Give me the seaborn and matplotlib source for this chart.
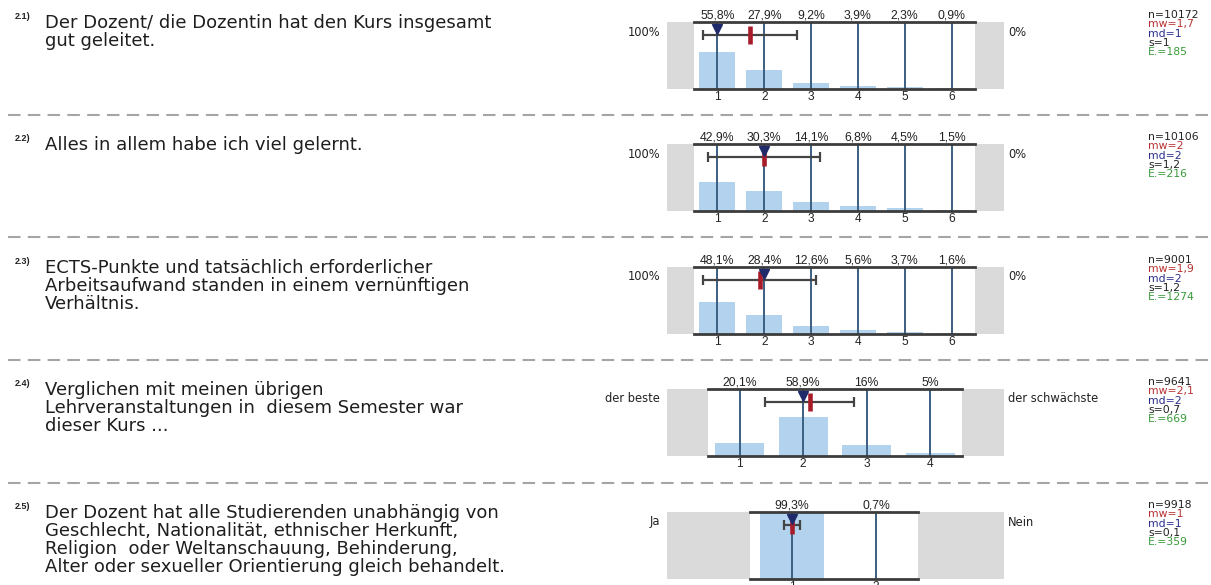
import matplotlib
matplotlib.use("Agg")
import matplotlib.pyplot as plt
import seaborn as sns
import pandas as pd
from matplotlib.lines import Line2D
from matplotlib.patches import Rectangle

# ---------------- data ----------------
q_numbers = ["2.1)", "2.2)", "2.3)", "2.4)", "2.5)"]
questions = [
    "Der Dozent/ die Dozentin hat den Kurs insgesamt\ngut geleitet.",
    "Alles in allem habe ich viel gelernt.",
    "ECTS-Punkte und tatsächlich erforderlicher\nArbeitsaufwand standen in einem vernünftigen\nVerhältnis.",
    "Verglichen mit meinen übrigen\nLehrveranstaltungen in  diesem Semester war\ndieser Kurs ...",
    "Der Dozent hat alle Studierenden unabhängig von\nGeschlecht, Nationalität, ethnischer Herkunft,\n"
    "Religion  oder Weltanschauung, Behinderung,\nAlter oder sexueller Orientierung gleich behandelt.",
]
pct_q1 = [55.8, 27.9, 9.2, 3.9, 2.3, 0.9]
pct_q2 = [42.9, 30.3, 14.1, 6.8, 4.5, 1.5]
pct_q3 = [48.1, 28.4, 12.6, 5.6, 3.7, 1.6]
pct_q4 = [20.1, 58.9, 16, 5]
pct_q5 = [99.3, 0.7]
left_labels = ["100%", "100%", "100%", "der beste", "Ja"]
right_labels = ["0%", "0%", "0%", "der schwächste", "Nein"]
n_vals = [10172, 10106, 9001, 9641, 9918]
mw_vals = [1.7, 2, 1.9, 2.1, 1]
md_vals = [1, 2, 2, 2, 1]
s_vals = [1, 1.2, 1.2, 0.7, 0.1]
e_vals = [185, 216, 1274, 669, 359]

all_pcts = [pct_q1, pct_q2, pct_q3, pct_q4, pct_q5]

# ---------------- layout (pixels) ----------------
W, H = 1211, 585
frame_top = [22, 144, 267, 389, 512]
frame_h = 67
frame_x = [(694, 975), (694, 975), (694, 975), (708, 962), (750, 918)]
gray_x = (667, 1004)
sep_y = [115, 237, 360, 483]

sns.set_theme(style="white")
plt.rcParams['font.family'] = ['DejaVu Sans']

fig = plt.figure(figsize=(W / 100, H / 100), dpi=100)
fig.patch.set_facecolor("white")


def fx(px):
    return px / W


def fy(py):
    return 1 - py / H


def fmt_num(v):
    return f"{v:g}".replace(".", ",")


BAR = "#b3d2ee"
VLINE = "#3b5f82"
SPINE = "#3c3c3c"

for r in range(5):
    pcts = all_pcts[r]
    K = len(pcts)
    top = frame_top[r]
    x0, x1 = frame_x[r]

    # gray side boxes
    fig.add_artist(Rectangle((fx(gray_x[0]), fy(top + frame_h)),
                             (gray_x[1] - gray_x[0]) / W, frame_h / H,
                             transform=fig.transFigure, facecolor="#dadada",
                             edgecolor="none", zorder=-1))

    ax = fig.add_axes([fx(x0), fy(top + frame_h), (x1 - x0) / W, frame_h / H])
    ax.set_facecolor("white")
    df = pd.DataFrame({"cat": [str(i + 1) for i in range(K)], "pct": pcts})
    sns.barplot(data=df, x="cat", y="pct", ax=ax, color=BAR, saturation=1,
                width=0.77, linewidth=0, zorder=2)
    ax.set_xlim(-0.5, K - 0.5)
    ax.set_ylim(0, 100)
    for i in range(K):
        ax.axvline(i, color=VLINE, lw=1.4, zorder=3)

    for side in ["left", "right"]:
        ax.spines[side].set_visible(False)
    for side in ["top", "bottom"]:
        ax.spines[side].set_visible(True)
        ax.spines[side].set_color(SPINE)
        ax.spines[side].set_linewidth(2.0)
        ax.spines[side].set_zorder(6)
    ax.set_yticks([])
    ax.set_xlabel("")
    ax.set_ylabel("")
    ax.tick_params(axis="x", length=0, pad=1.5, labelsize=8.6, colors="#222222")
    for lbl in ax.get_xticklabels():
        lbl.set_fontfamily("Liberation Sans")

    # percent labels
    for i, v in enumerate(pcts):
        ax.annotate(fmt_num(v) + "%", xy=(i, 1), xycoords=("data", "axes fraction"),
                    xytext=(0, 2.2), textcoords="offset points", ha="center",
                    va="baseline", fontsize=8.8, family="Liberation Sans",
                    color="#222222", annotation_clip=False)

    # mean +/- sd, mean marker, median marker
    mw, s, md = mw_vals[r], s_vals[r], md_vals[r]
    ax.errorbar(mw - 1, 80, xerr=s, fmt="none", ecolor="#444444", elinewidth=1.6,
                capsize=3.5, capthick=1.6, zorder=4)
    ax.plot([mw - 1, mw - 1], [67, 94], color="#a81c2a", lw=3.3,
            solid_capstyle="butt", zorder=5)
    ax.plot(md - 1, 90, marker="v", color="#1f2a6b", markersize=6.5,
            linestyle="none", zorder=7)

    # side labels
    fig.text(fx(660), fy(top + 10), left_labels[r], ha="right", va="center",
             fontsize=8.3, color="#222222")
    fig.text(fx(1008), fy(top + 10), right_labels[r], ha="left", va="center",
             fontsize=8.3, color="#222222")

    # statistics block
    stats = [(f"n={n_vals[r]}", "#222222"), (f"mw={fmt_num(mw)}", "#b83232"),
             (f"md={fmt_num(md)}", "#2b2f8c"), (f"s={fmt_num(s)}", "#222222"),
             (f"E.={e_vals[r]}", "#3a9a3a")]
    for j, (t, c) in enumerate(stats):
        fig.text(fx(1148), fy(top - 7 + 9.3 * j), t, ha="left", va="center",
                 fontsize=7.8, color=c)

    # question text
    fig.text(fx(15), fy(top - 3), q_numbers[r], ha="left", va="baseline",
             fontsize=6.5, fontweight="bold", family="Liberation Sans",
             color="#222222")
    fig.text(fx(45), fy(top - 8), questions[r], ha="left", va="top",
             fontsize=13, linespacing=0.99, color="#1e1e1e")

# dashed separators
for y in sep_y:
    fig.add_artist(Line2D([fx(8), fx(1211)], [fy(y), fy(y)], transform=fig.transFigure,
                          color="#a5a5a5", lw=1.5, linestyle=(0, (6, 3.5))))

fig.savefig("out.png", dpi=100)
